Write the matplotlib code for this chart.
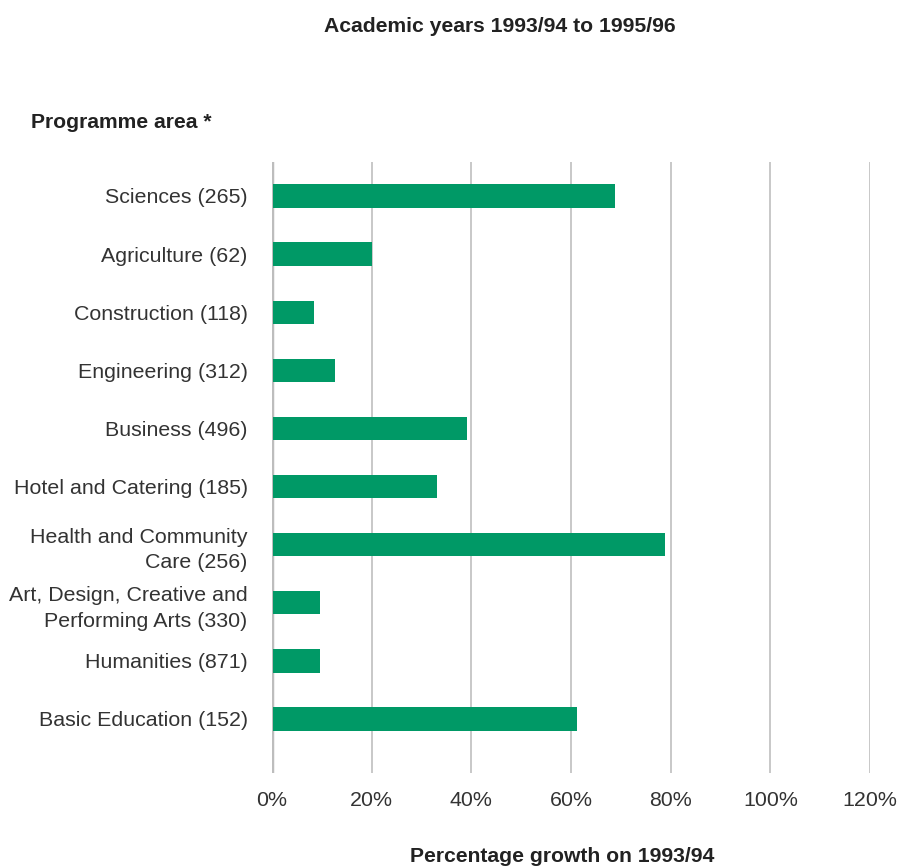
import matplotlib
matplotlib.use("Agg")
import matplotlib.pyplot as plt

# data
areas = ["Sciences (265)", "Agriculture (62)", "Construction (118)",
         "Engineering (312)", "Business (496)", "Hotel and Catering (185)",
         "Health and Community\nCare (256)",
         "Art, Design, Creative and\nPerforming Arts (330)",
         "Humanities (871)", "Basic Education (152)"]
growth = [68.7, 20.0, 8.2, 12.4, 39.0, 32.9, 78.8, 9.4, 9.4, 61.1]
ticks = [0, 20, 40, 60, 80, 100, 120]

plt.rcParams['font.family'] = ['Liberation Sans', 'DejaVu Sans']
green = '#009966'
textc = '#333333'

fig = plt.figure(figsize=(9.06, 8.68), dpi=100)
ax = fig.add_axes([0.3002, 0.1094, 0.6601, 0.704])

pos = list(range(len(areas)))
ax.barh(pos, growth, height=0.4, color=green, left=0.15, zorder=3)

ax.set_xlim(0, 120)
ax.set_ylim(9.93, -0.585)
ax.set_xticks(ticks)
ax.set_xticklabels([f"{t}%" for t in ticks], fontsize=15.4, color=textc)
ax.set_yticks(pos)
ax.set_yticklabels(areas, fontsize=15.4, color=textc)
for lab in ax.get_yticklabels():
    lab.set_linespacing(1.45)
ax.tick_params(axis='both', length=0)
ax.tick_params(axis='x', pad=13)
ax.tick_params(axis='y', pad=17.5)

for t in ticks[1:]:
    ax.axvline(t, color='#c4c4c4', lw=1.3, zorder=1)
ax.axvline(0, color='#bdbdbd', lw=2.5, zorder=2)
for s in ax.spines.values():
    s.set_visible(False)

fig.text(0.552, 0.970, "Academic years 1993/94 to 1995/96", ha='center', va='center',
         fontsize=15.2, fontweight='bold', color='#222222')
fig.text(0.034, 0.859, "Programme area *", ha='left', va='center',
         fontsize=15.2, fontweight='bold', color='#222222')
fig.text(0.620, 0.013, "Percentage growth on 1993/94", ha='center', va='center',
         fontsize=15.2, fontweight='bold', color='#222222')

fig.savefig("out.png", dpi=100)
